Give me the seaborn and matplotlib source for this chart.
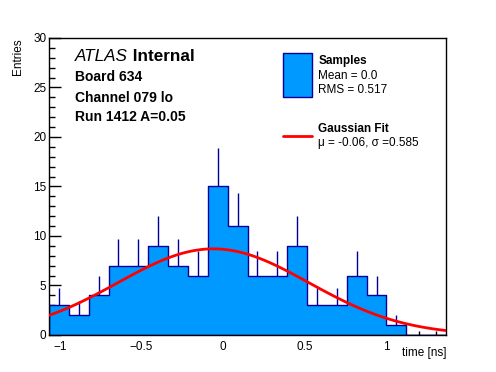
import numpy as np
import pandas as pd
import seaborn as sns
import matplotlib.pyplot as plt
from matplotlib.patches import Rectangle
from matplotlib.lines import Line2D
from matplotlib.ticker import MultipleLocator

# histogram contents
counts = [3, 2, 4, 7, 7, 9, 7, 6, 15, 11, 6, 6, 9, 3, 3, 6, 4, 1, 0, 0]
x_low = -1.066
bin_width = 0.1215

# gaussian fit parameters
fit_mu = -0.06
fit_sigma = 0.585
fit_amp = 8.7

edges = x_low + bin_width * np.arange(len(counts) + 1)
centers = 0.5 * (edges[:-1] + edges[1:])
df = pd.DataFrame({'time': centers, 'n': counts})

sns.set_style('ticks')
plt.rcParams['font.family'] = ['Liberation Sans', 'DejaVu Sans']
plt.rcParams['text.color'] = 'black'
plt.rcParams['xtick.labelcolor'] = 'black'
plt.rcParams['ytick.labelcolor'] = 'black'

fig = plt.figure(figsize=(4.96, 3.72), dpi=100)
ax = fig.add_axes([0.0988, 0.0995, 0.8004, 0.7985])

fill_col = '#0099ff'
edge_col = '#000099'

sns.histplot(data=df, x='time', weights='n', bins=len(counts),
             binrange=(edges[0], edges[-1]), element='step',
             fill=True, color=fill_col, alpha=1, edgecolor=edge_col,
             linewidth=1, ax=ax, zorder=2)

# sqrt(N) error bars (upper half visible)
err = np.sqrt(df['n'])
mask = df['n'] > 0
ax.vlines(df['time'][mask], df['n'][mask], (df['n'] + err)[mask],
          color=edge_col, linewidth=1, zorder=1)

# gaussian fit curve
xf = np.linspace(edges[0], edges[-1], 100)
yf = fit_amp * np.exp(-0.5 * ((xf - fit_mu) / fit_sigma) ** 2)
sns.lineplot(x=xf, y=yf, color='red', linewidth=2, ax=ax, zorder=3)

ax.set_xlim(edges[0], edges[-1])
ax.set_ylim(0, 30)
ax.set_xlabel('')
ax.set_ylabel('')

ax.xaxis.set_major_locator(MultipleLocator(0.5))
ax.xaxis.set_minor_locator(MultipleLocator(0.1))
ax.yaxis.set_major_locator(MultipleLocator(5))
ax.yaxis.set_minor_locator(MultipleLocator(1))
ax.set_xticks([-1, -0.5, 0, 0.5, 1])
ax.set_xticklabels(['\u22121', '\u22120.5', '0', '0.5', '1'])
ax.tick_params(axis='both', which='both', direction='in', labelsize=8.5,
               color='black', labelcolor='black', width=1)
ax.tick_params(axis='y', which='major', length=8.6, pad=2)
ax.tick_params(axis='y', which='minor', length=4.3)
ax.tick_params(axis='x', which='major', length=6.5, pad=4)
ax.tick_params(axis='x', which='minor', length=3.2)
for s in ax.spines.values():
    s.set_color('black')
    s.set_linewidth(1)

ax.text(-0.078, 1.0, 'Entries', rotation=90, ha='center', va='top',
        fontsize=8.5, transform=ax.transAxes)
ax.text(1.0, -0.04, 'time [ns]', ha='right', va='top', fontsize=8.5,
        transform=ax.transAxes)

# labels
atl = ax.text(0.0655, 0.936, 'ATLAS', style='italic', fontsize=12.3,
              va='center', transform=ax.transAxes)
ax.annotate(' Internal', xy=(1, 0), xycoords=atl, va='bottom',
            fontsize=12.3, fontweight='bold')
ax.text(0.0655, 0.869, 'Board 634', fontsize=10, fontweight='bold',
        va='center', transform=ax.transAxes)
ax.text(0.0655, 0.799, 'Channel 079 lo', fontsize=10, fontweight='bold',
        va='center', transform=ax.transAxes)
ax.text(0.0655, 0.734, 'Run 1412 A=0.05', fontsize=10, fontweight='bold',
        va='center', transform=ax.transAxes)

# legend
ax.add_patch(Rectangle((0.589, 0.801), 0.073, 0.148, transform=ax.transAxes,
                       facecolor=fill_col, edgecolor=edge_col, linewidth=1,
                       zorder=4))
ax.add_line(Line2D([0.589, 0.662], [0.670, 0.670], transform=ax.transAxes,
                   color='red', linewidth=2, zorder=4))
ax.text(0.678, 0.923, 'Samples', fontsize=8.5, fontweight='bold',
        va='center', transform=ax.transAxes)
ax.text(0.678, 0.872, 'Mean = 0.0', fontsize=8.5, va='center',
        transform=ax.transAxes)
ax.text(0.678, 0.825, 'RMS = 0.517', fontsize=8.5, va='center',
        transform=ax.transAxes)
ax.text(0.678, 0.694, 'Gaussian Fit', fontsize=8.5, fontweight='bold',
        va='center', transform=ax.transAxes)
ax.text(0.678, 0.646, '\u03bc = -0.06, \u03c3 =0.585', fontsize=8.5,
        va='center', transform=ax.transAxes)

fig.savefig('out.png', dpi=100, facecolor='white')
